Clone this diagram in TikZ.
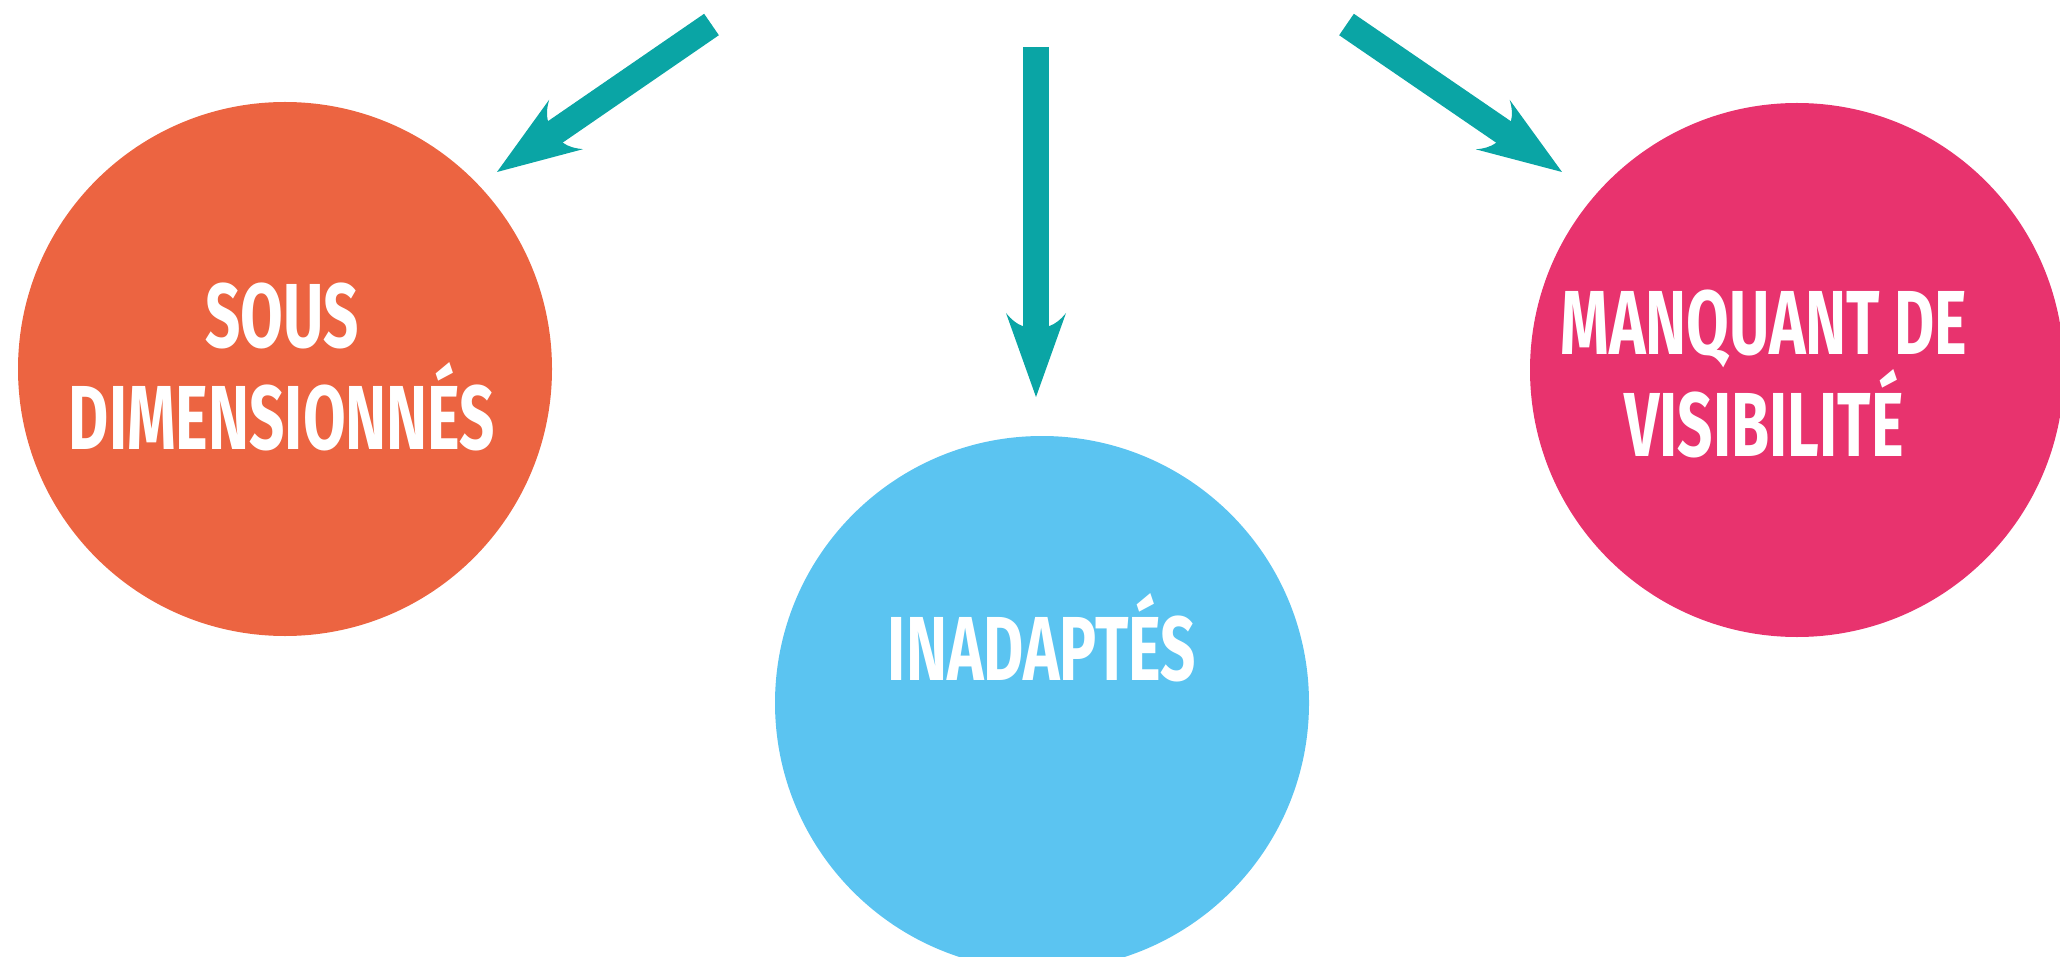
\documentclass[tikz,border=0pt]{standalone}
\usepackage{fontspec}
\setmainfont{Fira Sans}[FakeStretch=0.68]
\usetikzlibrary{arrows.meta}
\definecolor{corange}{RGB}{236,100,65}
\definecolor{cblue}{RGB}{91,196,241}
\definecolor{cpink}{RGB}{232,51,110}
\definecolor{cteal}{RGB}{10,165,165}
\pgfdeclarearrow{
  name=BigHead,
  setup code={%
    \pgfarrowssettipend{0pt}%
    \pgfarrowssetlineend{-60pt}%
    \pgfarrowssetbackend{-84pt}%
    \pgfarrowshullpoint{0pt}{0pt}%
    \pgfarrowshullpoint{-84pt}{30pt}%
    \pgfarrowshullpoint{-84pt}{-30pt}%
  },
  drawing code={%
    \pgfpathmoveto{\pgfqpoint{0pt}{0pt}}%
    \pgfpathlineto{\pgfqpoint{-84pt}{30pt}}%
    \pgfpathquadraticcurveto{\pgfqpoint{-74pt}{22pt}}{\pgfqpoint{-71pt}{13.5pt}}%
    \pgfpathlineto{\pgfqpoint{-71pt}{-13.5pt}}%
    \pgfpathquadraticcurveto{\pgfqpoint{-74pt}{-22pt}}{\pgfqpoint{-84pt}{-30pt}}%
    \pgfpathclose
    \pgfusepathqfill
  }
}
\begin{document}
\begin{tikzpicture}[x=1pt,y=-1pt,
  disc/.style={circle, minimum size=534pt, inner sep=0pt, draw=none},
  lbl/.style={text=white, font=\fontsize{91}{101}\selectfont\bfseries, anchor=base, inner sep=0pt},
  bigarrow/.style={draw=cteal, fill=cteal, line width=26pt, -{BigHead}}]
\useasboundingbox (0,0) rectangle (2060,957);
\clip (0,0) rectangle (2060,957);
\node[disc, fill=corange] (sous) at (285,369) {};
\node[disc, fill=cblue] (inad) at (1042,703) {};
\node[disc, fill=cpink] (manq) at (1797,370) {};
\node[lbl] (t1) at (282,347) {SOUS};
\node[lbl] (t2) at (282,449) {DIMENSIONNÉS};
\node[lbl] (t3) at (1764,354) {MANQUANT DE};
\node[lbl] (t4) at (1764,456) {VISIBILITÉ};
\node[lbl] (t5) at (1042,680) {INADAPTÉS};
\coordinate (lt) at (711.5,24.5);
\coordinate (lp) at (497,172);
\coordinate (mt) at (1036,47);
\coordinate (mp) at (1036,397);
\coordinate (rt) at (1346.5,24.5);
\coordinate (rp) at (1562,172);
\draw[bigarrow] (lt) -- (lp);
\draw[bigarrow] (mt) -- (mp);
\draw[bigarrow] (rt) -- (rp);
\end{tikzpicture}
\end{document}
